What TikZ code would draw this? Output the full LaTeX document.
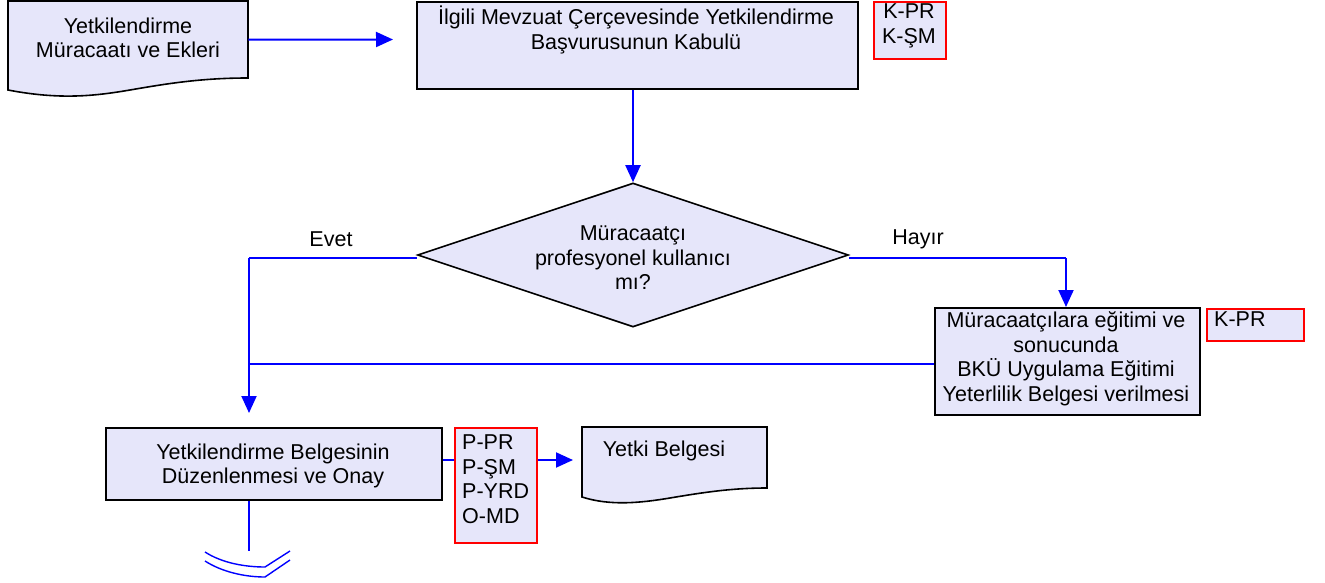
\documentclass[tikz,border=0pt]{standalone}
\usepackage{fontspec}
\setmainfont{Liberation Sans}
\usetikzlibrary{arrows.meta,shapes.geometric}
\definecolor{lav}{RGB}{230,230,250}
\definecolor{flowblue}{RGB}{0,0,255}
\begin{document}
\begin{tikzpicture}[x=1pt,y=-1pt,
 txt/.style={font=\fontsize{21.5}{24.5}\selectfont, align=center, inner sep=0},
 boxs/.style={draw=black, line width=1.6pt, fill=lav, inner sep=0, anchor=north west},
 refbox/.style={draw=red, line width=1.6pt, fill=lav, inner sep=0, anchor=north west},
 docshape/.style={draw=black, line width=1.6pt, fill=lav},
 flow/.style={draw=flowblue, line width=2pt},
 thinflow/.style={draw=flowblue, line width=1.4pt},
 arr/.style={flow, -{Triangle[length=17pt,width=15pt]}},
]
\useasboundingbox (0,0) rectangle (1325,583);

% document 1
\draw[docshape] (8,1) -- (248,1) -- (248,78)
  .. controls (200,78) and (165,84) .. (130,90)
  .. controls (95,96) and (60,100) .. (8,90) -- cycle;
\node[inner sep=0, anchor=north west, minimum width=240, minimum height=77] (doc1) at (8,1) {};
\node[txt] (doc1t) at (128,38) {Yetkilendirme\\Müracaatı ve Ekleri};

% box 2
\node[boxs, minimum width=441, minimum height=87] (box2) at (416,1) {};
\node[txt] (box2t) at (636,30) {İlgili Mevzuat Çerçevesinde Yetkilendirme\\Başvurusunun Kabulü};
\node[refbox, minimum width=72, minimum height=57] (kbox1) at (873,1) {};
\node[txt] (kbox1t) at (909,26) {K-PR\\K-ŞM};

% decision
\node[diamond, draw=black, line width=1.6pt, fill=lav, inner sep=0,
      minimum width=431, minimum height=144] (dec) at (633,255) {};
\node[txt] (dect) at (633,258) {Müracaatçı\\profesyonel kullanıcı\\mı?};
\node[txt] (evet) at (331,239) {Evet};
\node[txt] (hayir) at (918,239) {Hayır};

% box 3
\node[boxs, minimum width=265, minimum height=107] (box3) at (934,307) {};
\node[txt] (box3t) at (1066,359) {Müracaatçılara eğitimi ve\\sonucunda\\ BKÜ Uygulama Eğitimi\\Yeterlilik Belgesi verilmesi};
\node[refbox, minimum width=97, minimum height=32] (kbox2) at (1206,308) {};
\node[txt, anchor=west] (kbox2t) at (1214,319) {K-PR};

% box 4
\node[boxs, minimum width=336, minimum height=72] (box4) at (105,427) {};
\node[txt] (box4t) at (273,466) {Yetkilendirme Belgesinin\\ Düzenlenmesi ve Onay};
\node[refbox, minimum width=82, minimum height=115] (pbox) at (454,427) {};
\node[txt, align=left, anchor=west] (pboxt) at (462,479) {P-PR\\P-ŞM\\P-YRD\\O-MD};

% document 2
\draw[docshape] (582,427) -- (767,427) -- (767,488)
  .. controls (730,488) and (700,493) .. (670,498)
  .. controls (640,503) and (610,506) .. (582,497) -- cycle;
\node[inner sep=0, anchor=north west, minimum width=185, minimum height=61] (doc2) at (582,427) {};
\node[txt] (doc2t) at (664,451) {Yetki Belgesi};

% coordinates
\coordinate (a1end) at (393,39.5);
\coordinate (j1) at (249,258);
\coordinate (j2) at (1066,258);
\coordinate (a2end) at (249,413);
\coordinate (a3end) at (573,460);
\coordinate (oc) at (249,551);

% connectors
\draw[arr] (doc1.east) -- (a1end);
\draw[arr] (dec.north |- box2.south) -- (dec.north);
\draw[flow] (dec.west |- j1) -- (j1);
\draw[arr] (j1) -- (a2end);
\draw[flow] (dec.east |- j2) -- (j2);
\draw[arr] (j2) -- (j2 |- box3.north);
\draw[thinflow] (box3.west |- 0,364) -- (j1 |- 0,364);
\draw[flow] (box4.east |- a3end) -- (pbox.west |- a3end);
\draw[arr] (pbox.east |- a3end) -- (a3end);
\draw[thinflow] (box4.south -| oc) -- (oc);

% off-page connector marks
\draw[thinflow] (205,552) .. controls (222,563) and (245,567) .. (265,567) -- (290,551);
\draw[thinflow] (205,561) .. controls (222,572) and (245,577) .. (265,577) -- (290,560);
\end{tikzpicture}
\end{document}
